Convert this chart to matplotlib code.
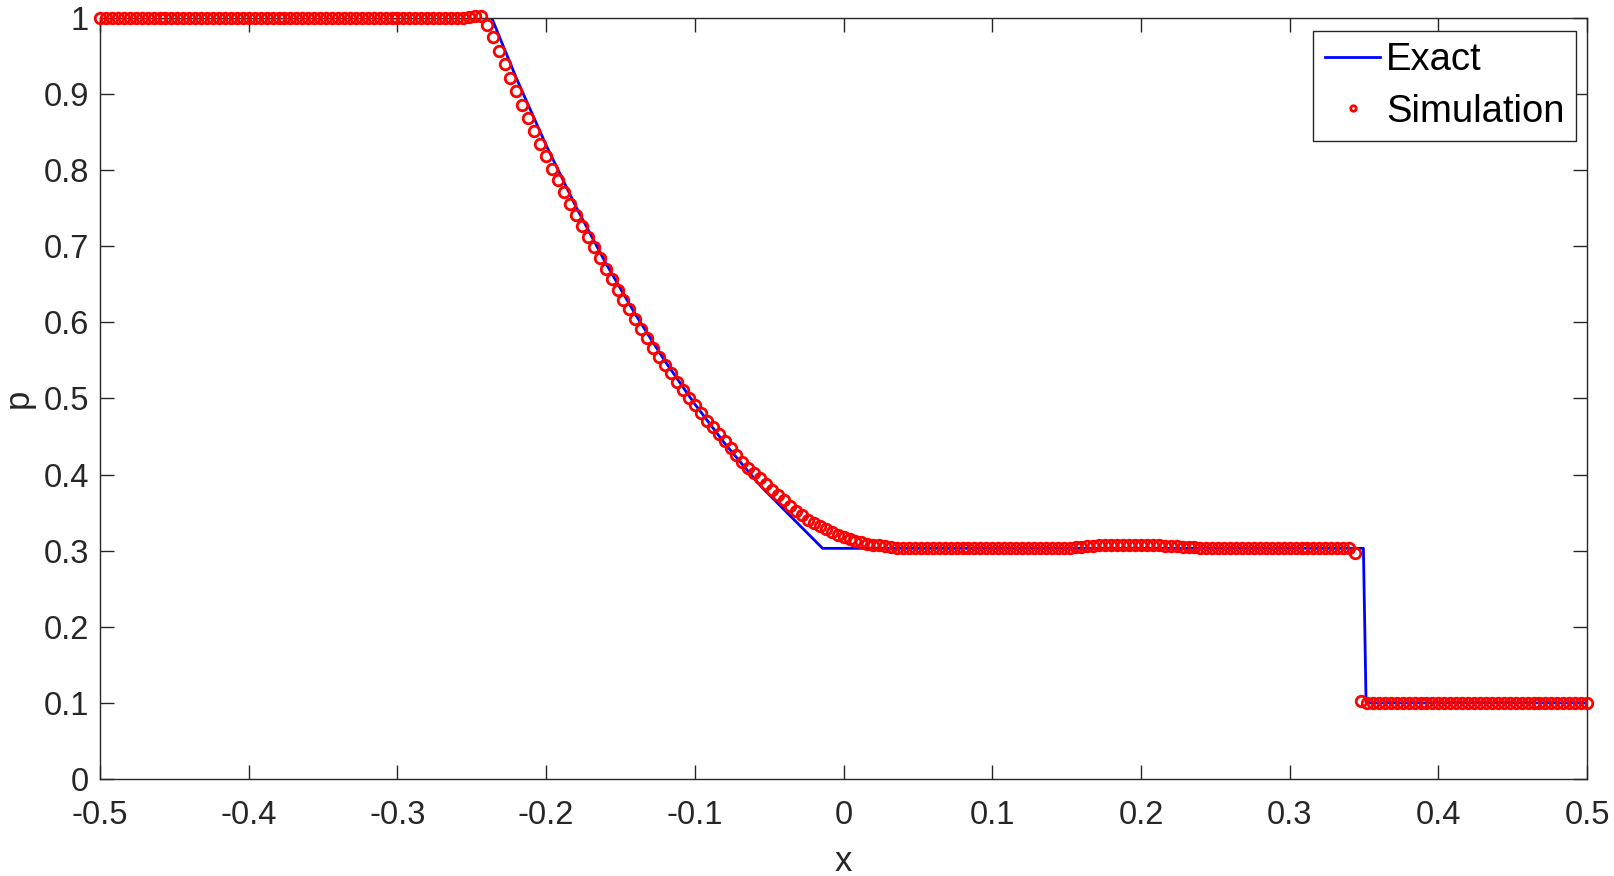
import numpy as np
import matplotlib
matplotlib.use('Agg')
import matplotlib.pyplot as plt

# exact solution
x_exact = [-0.5, -0.2366, -0.22, -0.20, -0.18, -0.16, -0.14, -0.12, -0.10,
           -0.08, -0.06, -0.054, -0.0141, 0.3496, 0.3514, 0.5]
p_exact = [1.0, 1.0, 0.9207, 0.8327, 0.7521, 0.6781, 0.6105, 0.5488, 0.4925,
           0.4412, 0.3946, 0.3814, 0.3031, 0.3031, 0.1, 0.1]

# simulation, 251 points on a uniform grid from -0.5 to 0.5
x_sim = np.linspace(-0.5, 0.5, 251)
p_fan = [1.001, 1.002, 1.003,
         0.991, 0.975, 0.957, 0.939, 0.921, 0.904, 0.886, 0.869, 0.852, 0.835,
         0.819, 0.802, 0.787, 0.771, 0.756, 0.741, 0.727, 0.712, 0.699, 0.684,
         0.670, 0.657, 0.643, 0.630, 0.617, 0.604, 0.591, 0.579, 0.567, 0.555,
         0.544, 0.533, 0.522, 0.511, 0.501, 0.491, 0.481, 0.471, 0.462, 0.454,
         0.444, 0.435, 0.426, 0.417, 0.409, 0.402, 0.395, 0.387, 0.380, 0.373,
         0.366, 0.359, 0.352, 0.347, 0.341, 0.336, 0.332, 0.328, 0.325, 0.321,
         0.318, 0.316, 0.313, 0.311, 0.309, 0.308, 0.307, 0.306, 0.305]
p_bump = [0.303, 0.304, 0.304, 0.305, 0.305, 0.306, 0.306, 0.307, 0.307,
          0.308, 0.308, 0.308, 0.308, 0.308, 0.308, 0.307, 0.307, 0.307,
          0.306, 0.306, 0.306, 0.305, 0.305, 0.305, 0.304, 0.304, 0.304, 0.304]
p_shock = [0.297, 0.102]
p_sim = ([1.0] * 62 + p_fan + [0.304] * 12 + [0.303] * 15 + p_bump
         + [0.303] * 22 + p_shock + [0.1] * 38)
assert len(p_sim) == len(x_sim), len(p_sim)

xticks = [-0.5, -0.4, -0.3, -0.2, -0.1, 0, 0.1, 0.2, 0.3, 0.4, 0.5]
xtick_labels = ['-0.5', '-0.4', '-0.3', '-0.2', '-0.1', '0', '0.1', '0.2', '0.3', '0.4', '0.5']
yticks = [0, 0.1, 0.2, 0.3, 0.4, 0.5, 0.6, 0.7, 0.8, 0.9, 1]
ytick_labels = ['0', '0.1', '0.2', '0.3', '0.4', '0.5', '0.6', '0.7', '0.8', '0.9', '1']

plt.rcParams['font.family'] = ['Liberation Sans', 'DejaVu Sans']
dark = '#262626'

fig = plt.figure(figsize=(16.14, 8.76), dpi=100)
ax = fig.add_axes([0.062, 0.1107, 0.9213, 0.8688])

ax.plot(x_exact, p_exact, color='#0000ff', lw=2.0, label='Exact', zorder=2)
ax.plot(x_sim, p_sim, 'o', mfc='none', mec='#ff0000', ms=7.6, mew=2.0,
        label='Simulation', zorder=3, clip_on=False)

ax.set_xlim(-0.5, 0.5)
ax.set_ylim(0, 1)
ax.set_xticks(xticks)
ax.set_xticklabels(xtick_labels)
ax.set_yticks(yticks)
ax.set_yticklabels(ytick_labels)
ax.tick_params(direction='in', length=10, width=1.0, colors=dark,
               labelsize=23.5, top=True, right=True)
ax.tick_params(axis='x', pad=15)
ax.tick_params(axis='y', pad=8)
for s in ax.spines.values():
    s.set_color(dark)
    s.set_linewidth(1.0)

ax.set_xlabel('x', fontsize=25, color=dark, labelpad=10)
ax.set_ylabel('p', fontsize=25, color=dark, labelpad=6)

leg = ax.legend(loc='upper right', bbox_to_anchor=(0.9925, 0.983), fontsize=27.5,
                frameon=True, fancybox=False, edgecolor=dark, framealpha=1,
                handlelength=1.45, handletextpad=0.15, borderpad=0.3,
                labelspacing=0.4, borderaxespad=0, markerscale=0.52)
leg.get_frame().set_linewidth(1.0)

fig.savefig('out.png', dpi=100)
